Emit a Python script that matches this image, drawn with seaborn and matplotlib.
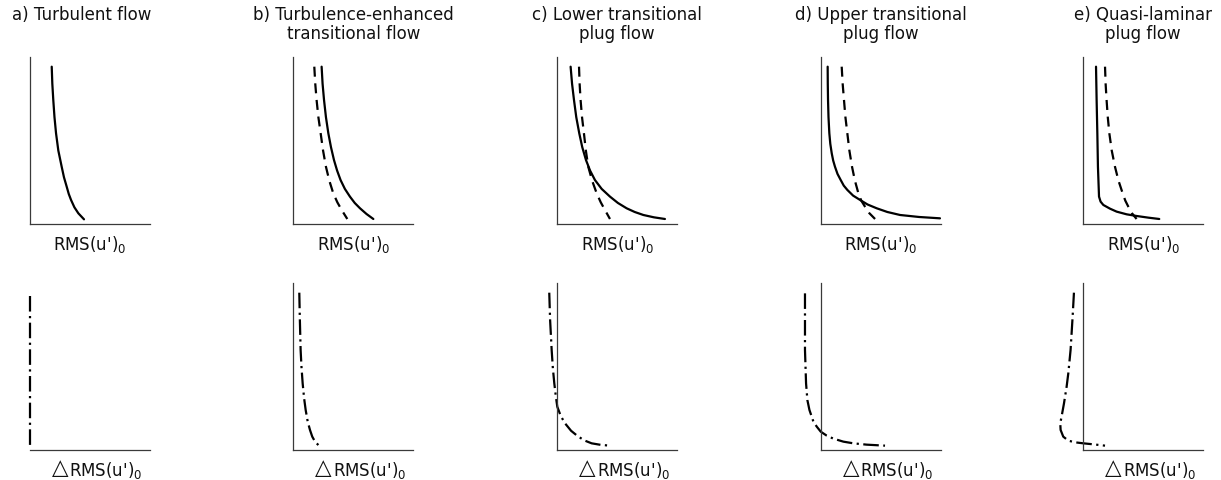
import matplotlib
matplotlib.use("Agg")
import matplotlib.pyplot as plt
import seaborn as sns

sns.set_theme(style="white")
plt.rcParams["font.family"] = ["DejaVu Sans"]
plt.rcParams["text.color"] = "#111111"

# Panel titles and axis labels
titles = ["a) Turbulent flow",
          "b) Turbulence-enhanced\ntransitional flow",
          "c) Lower transitional\nplug flow",
          "d) Upper transitional\nplug flow",
          "e) Quasi-laminar\nplug flow"]
top_label = "RMS(u')$_0$"
delta_sign = "\u25b3"

# Upper row: solid curve (one per panel)
solid_x = [
    [18.1, 18.6, 19.4, 20.4, 21.7, 23.6, 26.4, 28.3, 30.6, 32.3, 34.2, 37.0, 40.3, 45.0],
    [23.6, 24.4, 25.6, 27.2, 29.2, 31.4, 33.9, 36.5, 39.4, 43.0, 47.2, 51.2, 55.6, 61.0, 66.7],
    [11.1, 12.3, 13.9, 15.8, 18.3, 20.8, 23.9, 27.3, 31.4, 37.0, 43.9, 50.5, 57.8, 64.5, 71.7, 80.5, 89.7],
    [5.8, 5.9, 6.1, 6.5, 7.2, 8.0, 9.2, 10.4, 11.9, 14.0, 16.7, 19.2, 22.2, 27.0, 32.8, 39.0, 46.7, 55.5, 66.1, 82.0, 99.4],
    [10.6, 11.1, 11.7, 12.2, 13.1, 14.4, 16.7, 22.2, 27.8, 36.1, 44.4, 54.2, 63.3],
]
solid_y = [
    [94.2, 84.0, 74.3, 64.0, 54.3, 44.0, 34.3, 28.0, 22.3, 18.0, 14.4, 10.0, 6.4, 2.8],
    [94.2, 84.0, 74.3, 64.0, 54.3, 46.0, 38.3, 32.0, 26.3, 21.0, 16.4, 12.6, 9.4, 6.0, 3.0],
    [94.2, 84.0, 74.3, 64.0, 54.3, 46.0, 38.3, 32.0, 26.3, 21.0, 16.4, 12.6, 9.4, 7.2, 5.4, 4.0, 3.0],
    [94.2, 84.0, 74.3, 64.0, 54.3, 48.0, 42.3, 38.0, 34.3, 30.0, 26.3, 23.0, 20.4, 17.0, 14.4, 11.7, 9.4, 7.2, 5.4, 4.2, 3.4],
    [94.2, 74.3, 54.3, 34.3, 16.4, 13.4, 11.4, 9.2, 7.4, 5.8, 4.8, 3.8, 3.0],
]

# Upper row: dashed curve (panels b-e)
dashed_x = [
    None,
    [17.5, 18.3, 19.4, 20.9, 22.8, 24.8, 27.2, 30.0, 33.3, 36.7, 40.3, 45.0],
    [18.1, 18.6, 19.4, 20.6, 22.2, 23.8, 25.8, 29.0, 32.8, 36.2, 39.7, 43.9],
    [17.5, 18.3, 19.4, 20.6, 22.2, 23.9, 26.1, 28.5, 31.4, 33.8, 36.9, 40.5, 45.3],
    [18.1, 18.6, 19.4, 20.4, 21.7, 23.7, 26.4, 29.3, 32.8, 35.0, 37.5, 40.5, 44.4],
]
dashed_y = [
    None,
    [94.2, 84.0, 74.3, 64.0, 54.3, 44.0, 34.3, 26.0, 18.4, 13.0, 8.4, 3.0],
    [94.2, 84.0, 74.3, 64.0, 54.3, 44.0, 34.3, 26.0, 18.4, 13.0, 8.4, 3.0],
    [94.2, 84.0, 74.3, 64.0, 54.3, 44.0, 34.3, 26.0, 18.4, 14.0, 10.4, 6.5, 3.0],
    [94.2, 84.0, 74.3, 64.0, 54.3, 44.0, 34.3, 26.0, 18.4, 14.0, 10.4, 6.5, 3.0],
]

# Lower row: dash-dot curve of the change in RMS
delta_x = [
    [0.0, 0.0],
    [5.0, 5.4, 6.1, 6.8, 7.8, 9.0, 10.3, 12.0, 13.9, 15.8, 18.1, 21.4],
    [-6.7, -6.0, -4.7, -3.7, -2.5, -1.2, 0.0, 2.8, 6.4, 11.5, 17.5, 23.0, 28.6, 36.0, 43.9],
    [-13.1, -13.1, -13.1, -12.2, -11.1, -9.4, -6.1, -3.3, 0.0, 5.0, 10.6, 18.9, 27.2, 38.3, 53.6],
    [-7.8, -8.9, -10.6, -12.5, -13.9, -16.1, -18.1, -19.2, -18.9, -16.7, -12.5, -6.9, 0.0, 8.3, 18.1],
]
delta_y = [
    [92.0, 0.5],
    [94.2, 80.0, 59.9, 50.0, 39.9, 31.0, 24.0, 17.0, 12.0, 8.0, 5.0, 2.6],
    [94.2, 78.0, 59.9, 49.0, 39.9, 32.0, 25.9, 20.5, 16.0, 11.5, 8.0, 5.6, 4.0, 3.1, 2.6],
    [93.8, 80.0, 59.9, 39.9, 29.9, 24.0, 17.0, 14.0, 11.0, 8.6, 6.8, 5.0, 4.0, 3.2, 2.6],
    [94.2, 79.8, 59.9, 45.9, 37.9, 27.9, 20.0, 16.0, 12.0, 8.0, 5.6, 4.6, 4.0, 3.4, 2.6],
]

W, H = 1221, 480
fig = plt.figure(figsize=(W / 100, H / 100), dpi=100)

axis_x0 = [30, 293.3, 557.3, 820.7, 1083.3]   # pixel position of the vertical axis
xmin, xmax = -25, 100
px_per_unit = 1.2
ax_w = (xmax - xmin) * px_per_unit
ax_h = 167
row_bottom = [224, 450]                        # pixel row of the horizontal axis

spine_color = "#3a3a3a"
line_kw = dict(color="black", linewidth=1.6, legend=False)


def make_axes(i, row):
    left = axis_x0[i] + xmin * px_per_unit
    bottom = row_bottom[row]
    ax = fig.add_axes([left / W, (H - bottom) / H, ax_w / W, ax_h / H])
    ax.set_xlim(xmin, xmax)
    ax.set_ylim(0, 100)
    ax.patch.set_alpha(0)
    for s in ("top", "right"):
        ax.spines[s].set_visible(False)
    ax.spines["left"].set_position(("data", 0))
    ax.spines["bottom"].set_bounds(0, 100)
    for s in ("left", "bottom"):
        ax.spines[s].set_color(spine_color)
        ax.spines[s].set_linewidth(0.9)
    ax.set_xticks([])
    ax.set_yticks([])
    return ax


for i in range(5):
    # upper row
    ax = make_axes(i, 0)
    sns.lineplot(x=solid_x[i], y=solid_y[i], ax=ax, sort=False,
                 estimator=None, **line_kw)
    if dashed_x[i] is not None:
        sns.lineplot(x=dashed_x[i], y=dashed_y[i], ax=ax, sort=False,
                     estimator=None, linestyle=(0, (4.5, 3.0)), **line_kw)
    ax.set_xlabel("")
    ax.set_ylabel("")
    ax.annotate(top_label, xy=(50, 0), xycoords="data", xytext=(0, -7),
                textcoords="offset points", ha="center", va="top", fontsize=12)
    tx = 50 if i > 0 else 43
    ax.annotate(titles[i], xy=(tx, 1), xycoords=("data", "figure fraction"),
                xytext=(0, -4), textcoords="offset points",
                ha="center", va="top", fontsize=12, linespacing=1.1)

    # lower row
    ax = make_axes(i, 1)
    if i == 0:
        ax.spines["left"].set_visible(False)
    sns.lineplot(x=delta_x[i], y=delta_y[i], ax=ax, sort=False,
                 estimator=None, linestyle=(0, (7, 2, 1, 2)), **line_kw)
    ax.set_xlabel("")
    ax.set_ylabel("")
    rms = ax.annotate(top_label, xy=(63.3, 0), xycoords="data", xytext=(0, -7),
                      textcoords="offset points", ha="center", va="top",
                      fontsize=12)
    ax.annotate(delta_sign, xy=(0, 0), xycoords=rms, xytext=(-0.5, 2.2),
                textcoords="offset points", ha="right", va="bottom",
                fontsize=15.5)

fig.savefig("out.png", dpi=100, facecolor="white")
